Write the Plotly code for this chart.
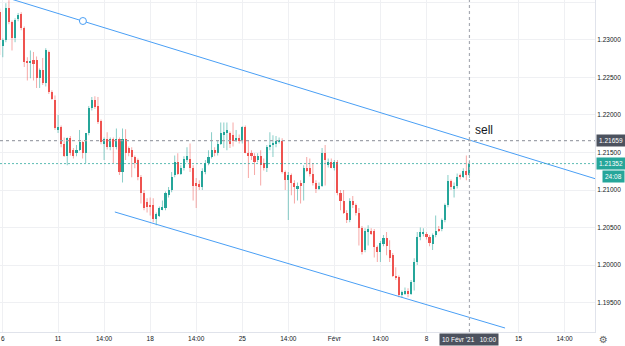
import plotly.graph_objects as go

# ---------------- data (EUR/USD, 4h candles) ----------------
open_ = [1.2337, 1.2292, 1.2300, 1.2342, 1.2324, 1.2302, 1.2328, 1.2334, 1.2316, 1.2272,
         1.2269, 1.2273, 1.2273, 1.2249, 1.2260, 1.2242, 1.2284, 1.2230, 1.2220, 1.2180,
         1.2184, 1.2162, 1.2146, 1.2169, 1.2153, 1.2150, 1.2154, 1.2164, 1.2149, 1.2176,
         1.2209, 1.2220, 1.2212, 1.2192, 1.2162, 1.2168, 1.2157, 1.2168, 1.2157, 1.2168,
         1.2124, 1.2168, 1.2156, 1.2154, 1.2144, 1.2140, 1.2117, 1.2096, 1.2084, 1.2080,
         1.2080, 1.2062, 1.2066, 1.2074, 1.2076, 1.2093, 1.2100, 1.2120, 1.2138, 1.2122,
         1.2129, 1.2140, 1.2142, 1.2129, 1.2109, 1.2108, 1.2104, 1.2124, 1.2136, 1.2144,
         1.2153, 1.2149, 1.2162, 1.2174, 1.2176, 1.2176, 1.2173, 1.2166, 1.2170, 1.2165,
         1.2184, 1.2150, 1.2149, 1.2146, 1.2140, 1.2146, 1.2136, 1.2130, 1.2157, 1.2160,
         1.2162, 1.2164, 1.2166, 1.2124, 1.2113, 1.2120, 1.2109, 1.2102, 1.2110, 1.2109,
         1.2130, 1.2129, 1.2121, 1.2110, 1.2102, 1.2106, 1.2149, 1.2133, 1.2137, 1.2129,
         1.2137, 1.2096, 1.2086, 1.2070, 1.2060, 1.2086, 1.2080, 1.2070, 1.2049, 1.2020,
         1.2044, 1.2046, 1.2045, 1.2024, 1.2017, 1.2028, 1.2036, 1.2020, 1.2013, 1.1986,
         1.1984, 1.1960, 1.1962, 1.1966, 1.1962, 1.1977, 1.2004, 1.2037, 1.2042, 1.2041,
         1.2037, 1.2028, 1.2040, 1.2048, 1.2048, 1.2060, 1.2080, 1.2112, 1.2102, 1.2106,
         1.2120, 1.2117, 1.2126, 1.2120]
high = [1.2342, 1.2302, 1.2349, 1.2353, 1.2326, 1.2329, 1.2336, 1.2337, 1.2318, 1.2277,
        1.2286, 1.2284, 1.2278, 1.2262, 1.2276, 1.2289, 1.2286, 1.2233, 1.2226, 1.2200,
        1.2186, 1.2170, 1.2170, 1.2172, 1.2156, 1.2160, 1.2180, 1.2166, 1.2176, 1.2212,
        1.2224, 1.2225, 1.2224, 1.2194, 1.2170, 1.2177, 1.2170, 1.2170, 1.2182, 1.2170,
        1.2182, 1.2181, 1.2158, 1.2157, 1.2146, 1.2142, 1.2120, 1.2100, 1.2089, 1.2090,
        1.2089, 1.2070, 1.2078, 1.2086, 1.2098, 1.2104, 1.2124, 1.2146, 1.2149, 1.2133,
        1.2145, 1.2157, 1.2162, 1.2133, 1.2116, 1.2113, 1.2129, 1.2140, 1.2153, 1.2177,
        1.2157, 1.2166, 1.2190, 1.2190, 1.2190, 1.2178, 1.2190, 1.2180, 1.2174, 1.2185,
        1.2186, 1.2166, 1.2153, 1.2149, 1.2149, 1.2153, 1.2142, 1.2160, 1.2177, 1.2173,
        1.2172, 1.2170, 1.2169, 1.2126, 1.2124, 1.2122, 1.2113, 1.2110, 1.2113, 1.2133,
        1.2144, 1.2142, 1.2136, 1.2113, 1.2110, 1.2156, 1.2160, 1.2142, 1.2142, 1.2140,
        1.2140, 1.2100, 1.2100, 1.2073, 1.2089, 1.2092, 1.2082, 1.2076, 1.2052, 1.2049,
        1.2053, 1.2049, 1.2048, 1.2026, 1.2032, 1.2040, 1.2044, 1.2033, 1.2016, 1.1997,
        1.1986, 1.1966, 1.1970, 1.1969, 1.1980, 1.2009, 1.2044, 1.2050, 1.2049, 1.2044,
        1.2040, 1.2042, 1.2066, 1.2052, 1.2062, 1.2082, 1.2120, 1.2114, 1.2110, 1.2122,
        1.2122, 1.2129, 1.2146, 1.2140]
low = [1.2280, 1.2277, 1.2297, 1.2321, 1.2286, 1.2297, 1.2325, 1.2313, 1.2264, 1.2246,
       1.2249, 1.2246, 1.2236, 1.2236, 1.2240, 1.2238, 1.2228, 1.2220, 1.2180, 1.2176,
       1.2157, 1.2144, 1.2133, 1.2146, 1.2142, 1.2145, 1.2152, 1.2142, 1.2136, 1.2173,
       1.2206, 1.2208, 1.2188, 1.2161, 1.2140, 1.2154, 1.2153, 1.2136, 1.2154, 1.2120,
       1.2110, 1.2140, 1.2145, 1.2117, 1.2129, 1.2113, 1.2082, 1.2073, 1.2070, 1.2066,
       1.2057, 1.2053, 1.2064, 1.2073, 1.2073, 1.2090, 1.2097, 1.2117, 1.2120, 1.2120,
       1.2126, 1.2137, 1.2124, 1.2086, 1.2076, 1.2100, 1.2100, 1.2121, 1.2133, 1.2142,
       1.2145, 1.2146, 1.2160, 1.2156, 1.2153, 1.2156, 1.2158, 1.2164, 1.2162, 1.2162,
       1.2149, 1.2116, 1.2140, 1.2120, 1.2137, 1.2106, 1.2126, 1.2124, 1.2153, 1.2144,
       1.2157, 1.2162, 1.2122, 1.2100, 1.2060, 1.2093, 1.2082, 1.2086, 1.2082, 1.2086,
       1.2124, 1.2118, 1.2106, 1.2096, 1.2100, 1.2104, 1.2106, 1.2130, 1.2129, 1.2126,
       1.2093, 1.2073, 1.2068, 1.2056, 1.2057, 1.2076, 1.2066, 1.2026, 1.2014, 1.2017,
       1.2026, 1.2040, 1.2010, 1.2004, 1.2004, 1.2025, 1.2013, 1.2004, 1.1984, 1.1980,
       1.1957, 1.1956, 1.1960, 1.1957, 1.1960, 1.1966, 1.2000, 1.2033, 1.2038, 1.2034,
       1.2025, 1.2020, 1.2037, 1.2044, 1.2045, 1.2057, 1.2077, 1.2100, 1.2090, 1.2102,
       1.2114, 1.2116, 1.2113, 1.2116]
close = [1.2300, 1.2300, 1.2342, 1.2324, 1.2302, 1.2326, 1.2333, 1.2316, 1.2270, 1.2269,
         1.2272, 1.2268, 1.2249, 1.2260, 1.2242, 1.2286, 1.2230, 1.2221, 1.2182, 1.2184,
         1.2162, 1.2146, 1.2169, 1.2150, 1.2146, 1.2154, 1.2164, 1.2149, 1.2176, 1.2209,
         1.2220, 1.2210, 1.2190, 1.2164, 1.2168, 1.2157, 1.2168, 1.2157, 1.2168, 1.2124,
         1.2168, 1.2149, 1.2150, 1.2144, 1.2136, 1.2117, 1.2096, 1.2076, 1.2077, 1.2077,
         1.2062, 1.2068, 1.2076, 1.2078, 1.2096, 1.2100, 1.2118, 1.2138, 1.2122, 1.2130,
         1.2142, 1.2146, 1.2129, 1.2106, 1.2105, 1.2104, 1.2126, 1.2136, 1.2144, 1.2153,
         1.2149, 1.2162, 1.2176, 1.2177, 1.2180, 1.2162, 1.2166, 1.2170, 1.2166, 1.2184,
         1.2150, 1.2146, 1.2146, 1.2138, 1.2146, 1.2133, 1.2130, 1.2157, 1.2160, 1.2162,
         1.2165, 1.2166, 1.2124, 1.2113, 1.2120, 1.2109, 1.2104, 1.2106, 1.2105, 1.2130,
         1.2126, 1.2121, 1.2109, 1.2102, 1.2106, 1.2149, 1.2140, 1.2137, 1.2130, 1.2137,
         1.2096, 1.2086, 1.2070, 1.2060, 1.2086, 1.2080, 1.2070, 1.2049, 1.2017, 1.2046,
         1.2048, 1.2042, 1.2024, 1.2017, 1.2029, 1.2036, 1.2026, 1.2010, 1.1986, 1.1984,
         1.1960, 1.1964, 1.1966, 1.1962, 1.1977, 1.2004, 1.2038, 1.2044, 1.2044, 1.2037,
         1.2029, 1.2040, 1.2046, 1.2046, 1.2060, 1.2080, 1.2112, 1.2104, 1.2106, 1.2117,
         1.2117, 1.2126, 1.2120, 1.21352]
bar_index = list(range(-1, -1 + len(close)))   # 4h bar number, 0 = 6 Jan 02:00

tick_pos = [0, 18, 33, 48, 63, 78, 93, 108, 123, 138, 168, 183]
tick_text = ["6", "11", "14:00", "18", "14:00", "25", "14:00", "Févr", "14:00", "8", "15", "14:00"]
price_ticks = [1.195, 1.200, 1.205, 1.210, 1.215, 1.220, 1.225, 1.230, 1.235]

upper_trend_x = [0, 193]
upper_trend_y = [1.2358, 1.2115]
upper_handle_x = [26.1]
upper_handle_y = [1.23253]
lower_trend_x = [36.5, 163.6]
lower_trend_y = [1.20707, 1.19160]

sell_level = 1.21659
crosshair_label = "10 Févr '21&nbsp;&nbsp;&nbsp;10:00"
countdown = "24:08"

# ---------------- styles ----------------
UP, DOWN = "#26a69a", "#ef5350"
UP_W, DOWN_W = "rgba(38,166,154,0.55)", "rgba(239,83,80,0.5)"
TREND = "#4a9ff5"
GRID = "#eff0f3"
FONT = "Liberation Sans"

fig = go.Figure()

# wicks
for want_up, col in ((True, UP_W), (False, DOWN_W)):
    wx, wy = [], []
    for k, o, h, l, c in zip(bar_index, open_, high, low, close):
        if (c >= o) == want_up:
            wx += [k, k, None]
            wy += [l, h, None]
    fig.add_trace(go.Scatter(x=wx, y=wy, mode="lines", line=dict(color=col, width=1),
                             hoverinfo="skip", showlegend=False))

# bodies
for want_up, col in ((True, UP), (False, DOWN)):
    bx, bb, bh = [], [], []
    for k, o, c in zip(bar_index, open_, close):
        if (c >= o) == want_up:
            bx.append(k)
            bb.append(min(o, c))
            bh.append(max(abs(c - o), 0.00012))
    fig.add_trace(go.Bar(x=bx, y=bh, base=bb, width=0.68, marker=dict(color=col, line=dict(width=0)),
                         hoverinfo="skip", showlegend=False))

# trend lines
fig.add_trace(go.Scatter(x=upper_trend_x, y=upper_trend_y, mode="lines",
                         line=dict(color=TREND, width=1), hoverinfo="skip", showlegend=False))
fig.add_trace(go.Scatter(x=lower_trend_x, y=lower_trend_y, mode="lines",
                         line=dict(color=TREND, width=1), hoverinfo="skip", showlegend=False))
fig.add_trace(go.Scatter(x=upper_handle_x, y=upper_handle_y, mode="markers",
                         marker=dict(symbol="circle", size=7, color="white", line=dict(color=TREND, width=1)),
                         hoverinfo="skip", showlegend=False))

# horizontal price lines and crosshair
fig.add_shape(type="line", xref="paper", x0=0, x1=1, yref="y", y0=sell_level, y1=sell_level,
              line=dict(color="#a0a3ab", width=1.2, dash="3px,3px"))
fig.add_shape(type="line", xref="paper", x0=0, x1=1, yref="y", y0=close[-1], y1=close[-1],
              line=dict(color="rgba(38,166,154,0.75)", width=1, dash="2px,2px"))
fig.add_shape(type="line", xref="x", x0=bar_index[-1], x1=bar_index[-1], yref="paper", y0=0, y1=1,
              line=dict(color="#a8abb3", width=1.2, dash="3px,3px"))

# labels
small = dict(family=FONT, size=6.5, color="white")
fig.add_annotation(xref="paper", x=1, xanchor="left", xshift=1, yref="y", y=sell_level,
                   text=f"{sell_level:.5f}", showarrow=False, font=small, bgcolor="#4c525e", borderpad=2)
fig.add_annotation(xref="paper", x=1, xanchor="left", xshift=1, yref="y", y=close[-1],
                   text=f"{close[-1]:.5f}", showarrow=False, font=small, bgcolor=UP, borderpad=2)
fig.add_annotation(xref="paper", x=1, xanchor="left", xshift=7, yref="y", y=close[-1], yshift=-13,
                   text=countdown, showarrow=False, font=small, bgcolor=UP, borderpad=2)
fig.add_annotation(xref="x", x=bar_index[-1], yref="paper", y=0, yanchor="top", yshift=-1,
                   text=crosshair_label, showarrow=False, font=small, bgcolor="#4c525e", borderpad=2)
fig.add_annotation(xref="x", x=bar_index[-1], xshift=15, yref="y", y=sell_level, yshift=11,
                   text="sell", showarrow=False, font=dict(family=FONT, size=12, color="#131722"))
fig.add_annotation(xref="paper", x=1, xshift=15, yref="paper", y=0, yanchor="top", yshift=0,
                   text="⚙", showarrow=False, font=dict(family="DejaVu Sans", size=10, color="#666"))

fig.update_layout(
    width=625, height=346,
    margin=dict(l=0, r=30, t=0, b=14),
    paper_bgcolor="white", plot_bgcolor="white",
    bargap=0, barmode="overlay",
    showlegend=False, hovermode=False,
    font=dict(family=FONT, size=6.5, color="#131722"),
    xaxis=dict(range=[-0.91, 192.9], tickvals=tick_pos, ticktext=tick_text, ticks="",
               showgrid=True, gridcolor=GRID, zeroline=False, showline=True, linecolor="#e0e3eb",
               tickfont=dict(family=FONT, size=6.5, color="#131722"), fixedrange=True),
    yaxis=dict(range=[1.19107, 1.23533], side="right", tickvals=price_ticks, tickformat=".5f",
               ticks="", showgrid=True, gridcolor=GRID, zeroline=False, showline=True,
               linecolor="#e0e3eb", tickfont=dict(family=FONT, size=6.5, color="#131722"),
               fixedrange=True),
)

fig.write_html("out.html", config={"displayModeBar": False})
